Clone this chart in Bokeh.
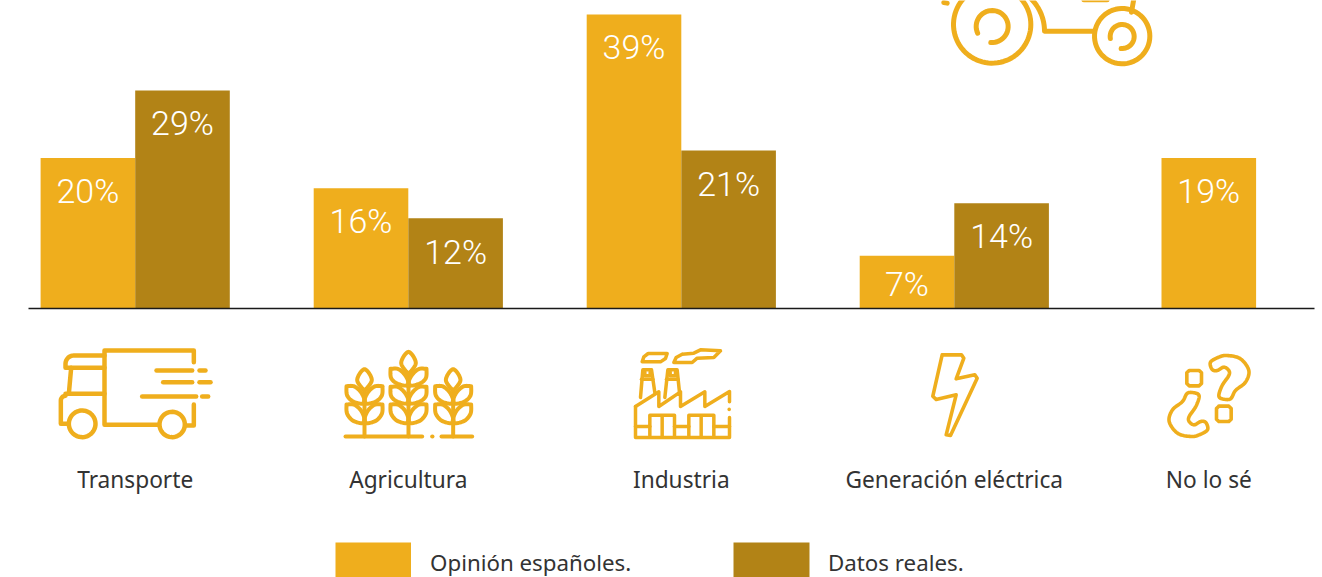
import numpy as np
from bokeh.plotting import figure
from bokeh.models import Range1d, ColumnDataSource
from bokeh.core.properties import value
from bokeh.embed import file_html
from bokeh.resources import INLINE

# ---- data ----
categories = ["Transporte", "Agricultura", "Industria", "Generación eléctrica", "No lo sé"]
opinion_bars = [20, 16, 39.1, 7, 20]
opinion_labels = [20, 16, 39, 7, 19]
real_bars = [29, 12, 21, 14]
real_labels = [29, 12, 21, 14]
legend_names = ["Opinión españoles.", "Datos reales."]

# ---- layout ----
W, H = 1322, 577
BASE_PX = 308
PX_PER_UNIT = 7.52
group_x = [134.7, 407.8, 680.8, 953.8]
last_x = 1208.3
BAR_W = 94.6
YELLOW = "#EFAE1D"
BROWN = "#B28316"
TEXT = "#333333"
FONT = "Noto Sans"
LABEL_FONT = "Roboto Light"

p = figure(width=W, height=H, toolbar_location=None, output_backend="svg",
           x_range=Range1d(0, W),
           y_range=Range1d(-(H - BASE_PX) / PX_PER_UNIT, BASE_PX / PX_PER_UNIT),
           x_axis_location=None, y_axis_location=None, min_border=0,
           outline_line_color=None, background_fill_color="white",
           border_fill_color="white")
p.grid.visible = False
p.extra_y_ranges = {"px": Range1d(H, 0)}

# bars
op_x = [g - BAR_W / 2 for g in group_x] + [last_x]
re_x = [g + BAR_W / 2 for g in group_x]
p.vbar(x=op_x, top=opinion_bars, bottom=0, width=BAR_W, fill_color=YELLOW, line_color=None)
p.vbar(x=re_x, top=real_bars, bottom=0, width=BAR_W, fill_color=BROWN, line_color=None)

# baseline
p.segment(x0=[28], x1=[1314], y0=[0], y1=[0], line_color="#1a1a1a", line_width=1.6)

# value labels
op_off = [33, 33, 33, 28, 33]
src = ColumnDataSource(dict(x=op_x + re_x, y=opinion_bars + real_bars,
                            t=[f"{v}%" for v in opinion_labels + real_labels],
                            o=op_off + [33, 34, 33, 33]))
p.text(x="x", y="y", text="t", y_offset="o", source=src, text_color="white",
       text_align="center", text_baseline="middle",
       text_font=value(LABEL_FONT), text_font_size="34px")

# category labels
p.text(x=group_x + [last_x], y=[479] * 5, text=categories, y_range_name="px",
       text_color=TEXT, text_align="center", text_baseline="middle",
       text_font=value(FONT), text_font_size="22.7px")

# legend
p.quad(left=[335, 733], right=[410.5, 809], top=[542, 542], bottom=[577, 577],
       fill_color=[YELLOW, BROWN], line_color=None, y_range_name="px")
p.text(x=[429.5, 827.5], y=[562, 562], text=legend_names, y_range_name="px", text_color=TEXT,
       text_align="left", text_baseline="middle",
       text_font=value(FONT), text_font_size="22.3px")


# ---- icon helpers (pixels of the zoomed view -> page pixels) ----
def z(ox, oy, pts):
    a = np.array(pts, float)
    return ox + a[:, 0] / 3, oy + a[:, 1] / 3


def arc(cx, cy, r, a0, a1, n=50):
    t = np.radians(np.linspace(a0, a1, n))
    return list(zip(cx + r * np.cos(t), cy + r * np.sin(t)))


def spline(pts, closed=False, n=10):
    a = np.array(pts, float)
    if closed:
        a = np.vstack([a[-1], a, a[0], a[1]])
    else:
        a = np.vstack([a[0], a, a[-1]])
    out = []
    for i in range(1, len(a) - 2):
        p0, p1, p2, p3 = a[i - 1], a[i], a[i + 1], a[i + 2]
        for t in np.linspace(0, 1, n, endpoint=False):
            out.append(0.5 * (2 * p1 + (p2 - p0) * t + (2 * p0 - 5 * p1 + 4 * p2 - p3) * t ** 2
                              + (3 * p1 - p0 - 3 * p2 + p3) * t ** 3))
    out.append(a[-2])
    return [tuple(q) for q in out]


def draw(paths, ox, oy, width):
    xs, ys = [], []
    for path in paths:
        x, y = z(ox, oy, path)
        xs.append(list(x))
        ys.append(list(y))
    p.multi_line(xs, ys, line_color=YELLOW, line_width=width, line_cap="round",
                 line_join="round", y_range_name="px")


# truck
truck = [
    [(490, 95), (490, 60), (222, 60), (222, 283), (385, 283)],
    [(490, 222), (490, 285), (465, 285)],
    arc(155, 280, 40, 0, 360), arc(425, 282, 38, 0, 360),
    [(222, 75), (130, 75)] + arc(130, 100, 25, 270, 180, 10) + [(105, 112), (222, 112)],
    [(122, 112), (115, 190), (222, 190)],
    [(115, 190), (105, 190)] + arc(105, 210, 14, 270, 180, 10) + [(91, 280), (112, 280)],
    [(378, 120), (485, 120)], [(507, 120), (525, 120)],
    [(398, 155), (485, 155)], [(507, 155), (540, 155)],
    [(335, 198), (497, 198)], [(515, 198), (533, 198)],
]
draw(truck, 30, 330, 4.5)


# wheat
def leaf(cx, s, tip_y, base_y):
    return spline([(cx + s * 54, tip_y), (cx + s * 30, tip_y + 1), (cx + s * 8, tip_y + 22), (cx, base_y),
                   (cx + s * 32, base_y - 4), (cx + s * 52, tip_y + 28), (cx + s * 54, tip_y)], n=8)


def wheat_stalk(cx, rows, top_y, top_h):
    paths = [[(cx, 282), (cx, top_y + top_h)]]
    paths.append(spline([(cx, top_y + top_h), (cx - 22, top_y + top_h * 0.5), (cx, top_y),
                         (cx + 22, top_y + top_h * 0.5), (cx, top_y + top_h)], n=8))
    for tip_y, base_y in rows:
        for s in (-1, 1):
            paths.append(leaf(cx, s, tip_y, base_y))
    return paths


wheat = (wheat_stalk(72, [(131, 182), (186, 240)], 80, 65)
         + wheat_stalk(204, [(79, 128), (133, 182), (186, 240)], 28, 67)
         + wheat_stalk(338, [(131, 182), (186, 240)], 80, 65))
wheat += [[(15, 282), (245, 282)], [(275, 282), (276, 282)], [(303, 282), (395, 282)]]
draw(wheat, 340, 342, 4)

# factory
factory = [
    [(30, 192), (100, 148), (100, 192), (165, 148), (165, 192), (238, 148), (238, 192), (312, 147), (312, 178)],
    [(311, 200), (311, 201)],
    [(312, 225), (312, 285), (30, 285), (30, 192)],
    [(45, 165), (52, 82), (78, 82), (88, 150)],
    [(118, 165), (127, 82), (155, 82), (162, 150)],
    [(48, 110), (82, 110)], [(123, 110), (157, 110)],
    [(58, 88), (58, 100), (74, 100), (74, 88)], [(134, 88), (134, 100), (150, 100), (150, 88)],
    [(73, 280), (73, 218), (147, 218), (147, 280)],
    [(190, 280), (190, 218), (265, 218), (265, 280)],
    [(110, 222), (110, 280)], [(227, 222), (227, 280)],
    [(30, 252), (73, 252)], [(147, 252), (190, 252)], [(265, 252), (312, 252)],
    [(68, 33), (125, 33), (120, 48), (105, 58), (50, 58), (55, 43), (68, 33)],
    [(170, 35), (205, 32), (225, 22), (285, 25), (265, 45), (215, 47), (200, 60), (145, 60), (152, 45), (170, 35)],
]
draw(factory, 625, 342, 3.5)

# bolt
bolt = [[(50, 28), (108, 28), (115, 38), (92, 100), (148, 88), (155, 98), (75, 270), (62, 268),
         (92, 148), (32, 162), (22, 152), (50, 28)]]
draw(bolt, 925, 345, 3.6)

# question marks
q = [(150, 50), (175, 35), (200, 30), (240, 40), (265, 75), (255, 110), (225, 135), (210, 160), (185, 160),
     (175, 150), (185, 120), (205, 90), (205, 75), (190, 65), (170, 75), (155, 72)]
qpath = spline(q, closed=True)
qdot = [(175, 182), (205, 182), (212, 189), (212, 221), (205, 228), (175, 228), (168, 221), (168, 189), (175, 182)]
rot = lambda path: [(291 - a, 303 - b) for a, b in path]
question = [qpath, qdot, rot(qpath), rot(qdot)]
draw(question, 1160, 345, 3.6)

# tractor
tractor = [
    arc(185, 72, 116, 0, 360, 80),
    arc(185, 78, 48, 155, 360 + 95, 40),
    arc(575, 107, 83, 0, 360, 60),
    arc(575, 108, 36, 170, 360 + 95, 40),
    [(492, 92), (342, 92)] + arc(205, 92, 137, 0, -50, 20),
    [(610, -5), (603, 35)],
    [(40, 6), (50, 8)],
    [(460, -2), (530, -2)],
]
draw(tractor, 930, 0, 5)

open("out.html", "w").write(file_html(p, INLINE))
